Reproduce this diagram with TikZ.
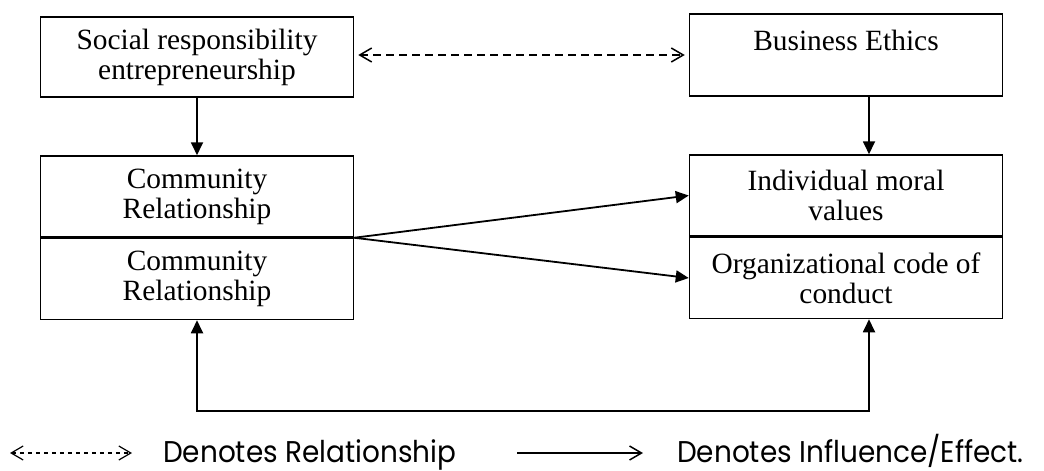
\documentclass[tikz,border=0pt]{standalone}
\usepackage{fontspec}
\setmainfont{Liberation Serif}
\newfontfamily\legendfont[FakeStretch=0.93]{Poppins}
\usetikzlibrary{arrows.meta,positioning}

\begin{document}
\begin{tikzpicture}[
			x=1pt, y=-1pt,
			box/.style={draw, line width=1.5pt, minimum width=313pt, minimum height=81pt, inner sep=0pt, align=center, font=\fontsize{29.4}{30}\selectfont},
			influence/.style={line width=1.8pt, -{Triangle[length=13pt,width=12pt]}},
			mutual/.style={line width=1.8pt, {Triangle[length=13pt,width=12pt]}-{Triangle[length=13pt,width=12pt]}},
			relation/.style={line width=1.5pt, dash pattern=on 8pt off 5pt, {Straight Barb[length=12pt,width=14pt]}-{Straight Barb[length=12pt,width=14pt]}, shorten <=4pt, shorten >=4pt},
			legrelation/.style={line width=1.2pt, dash pattern=on 4pt off 4pt, {Straight Barb[length=12pt,width=14pt]}-{Straight Barb[length=12pt,width=14pt]}},
			leginfluence/.style={line width=1.5pt, -{Straight Barb[length=12pt,width=14pt]}},
			legend/.style={anchor=base west, inner sep=0pt, font=\legendfont\fontsize{30}{32}\selectfont},
			]

			\newcommand{\shift}{23pt}

			\useasboundingbox (0,0) rectangle (1044,471);

			% top row
			\node [box, minimum height=80pt] (social) at (197,57) {Social responsibility\\entrepreneurship};
			\node [box, minimum height=82pt] (ethics) at (846,55) {Business Ethics\\\phantom{x}};

			% middle row
			\node [box] (commtop) at (197,196.5) {Community\\Relationship};
			\node [box, below=0pt of commtop] (commbot) {Community\\Relationship};
			\node [box] (indtop) at (846,195.5) {Individual moral\\values};
			\node [box, below=0pt of indtop] (indbot) {Organizational code of\\conduct};

			% connectors
			\draw [relation] (social.east |- ethics.west) -- (ethics.west);
			\draw [influence] (social.south) -- (commtop.north);
			\draw [influence] ([xshift=\shift]ethics.south) -- ([xshift=\shift]indtop.north);
			\draw [influence] (commtop.south east) -- (indtop.west);
			\draw [influence] (commtop.south east) -- (indbot.west);
			\draw [mutual] (commbot.south) -- ++(0,91) -| ([xshift=\shift]indbot.south);

			% legend
			\coordinate (relL) at (10,453);
			\coordinate (relR) at (132,453);
			\coordinate (infL) at (517,453);
			\coordinate (infR) at (643,453);
			\draw [legrelation] (relL) -- (relR);
			\node [legend] (legrel) at (163,462) {Denotes Relationship};
			\draw [leginfluence] (infL) -- (infR);
			\node [legend] (leginf) at (677,462) {Denotes Influence/Effect.};

		\end{tikzpicture}
\end{document}
